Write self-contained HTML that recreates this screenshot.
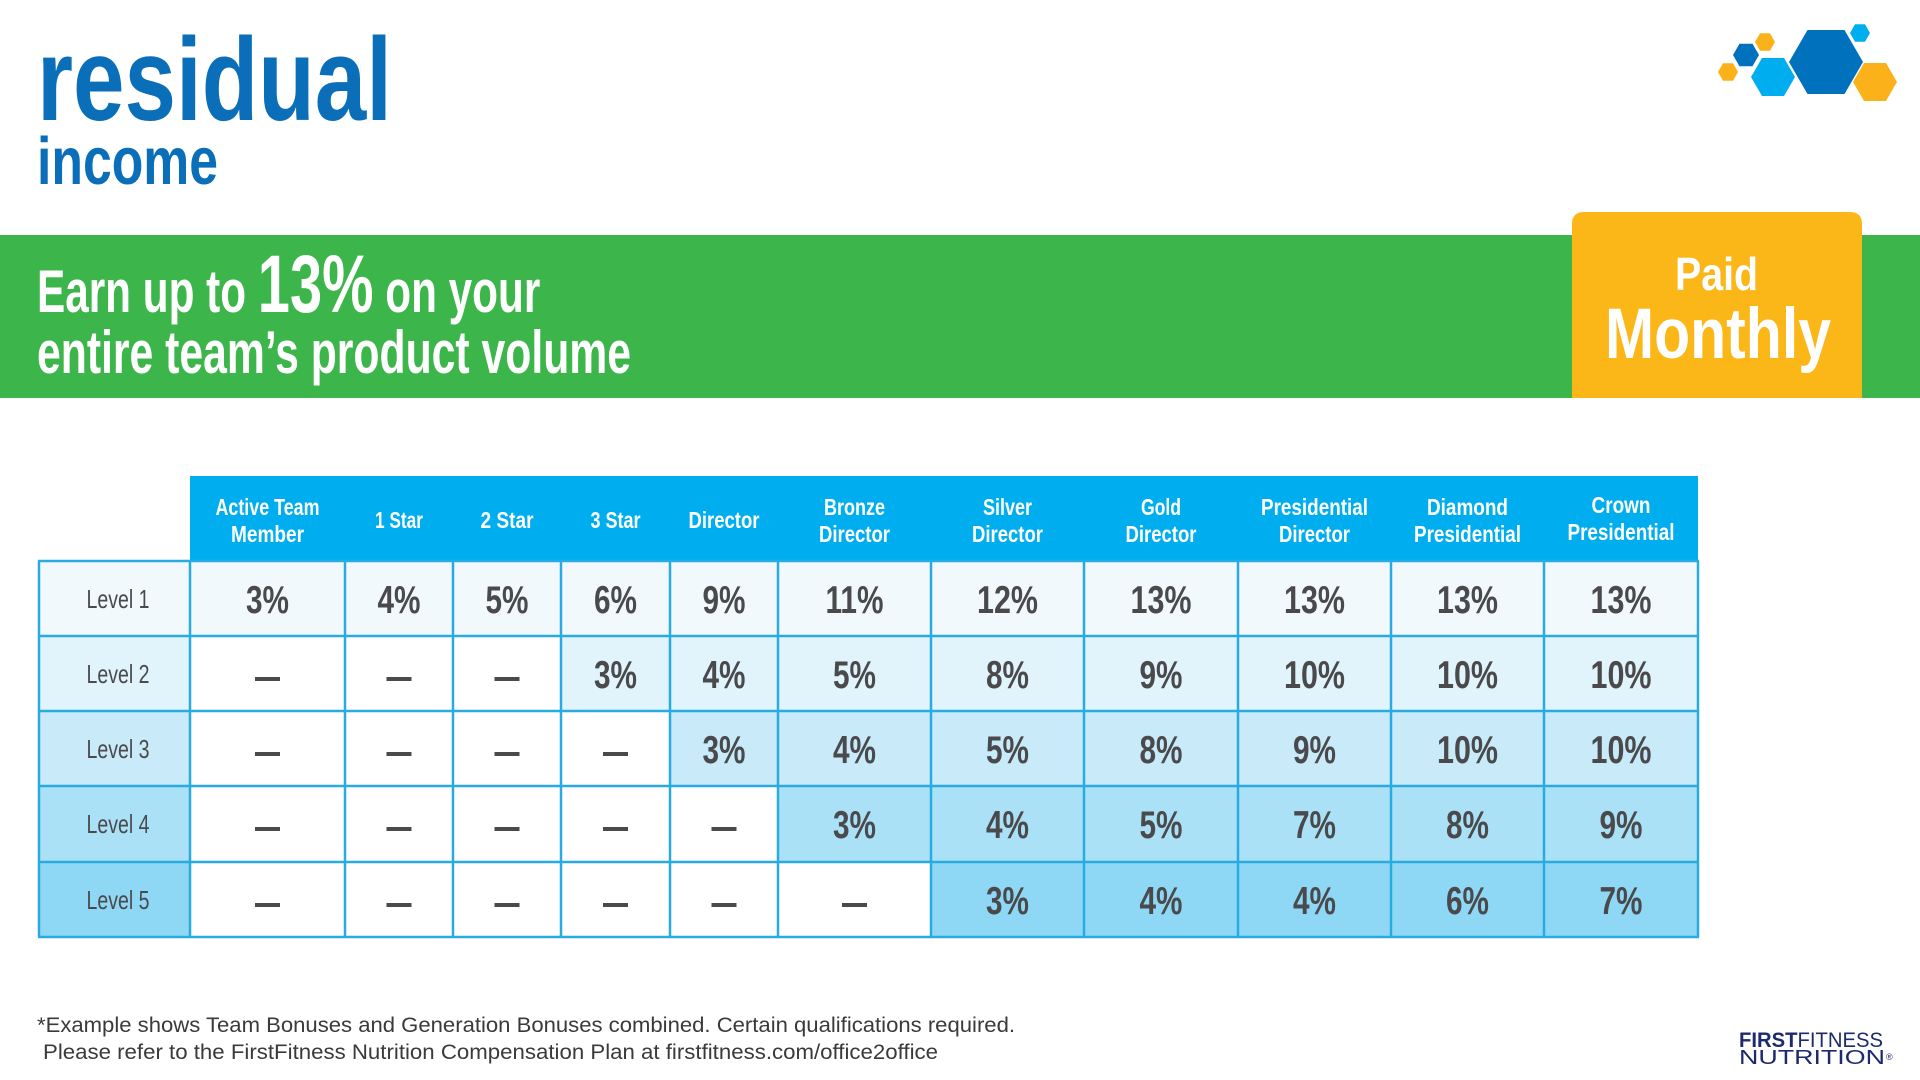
<!DOCTYPE html>
<html><head><meta charset="utf-8"><style>
html,body{margin:0;padding:0;background:#fff;}
svg{display:block;}
.v{font-family:"Liberation Sans",sans-serif;font-weight:bold;font-size:39px;fill:#4a4a4c;text-anchor:middle;}
.h{font-family:"Liberation Sans",sans-serif;font-weight:bold;font-size:23px;fill:#fff;text-anchor:middle;}
.l{font-family:"Liberation Sans",sans-serif;font-size:26px;fill:#4a4a4c;text-anchor:middle;}
.f{font-family:"Liberation Sans",sans-serif;font-size:21px;fill:#3a3a3a;}
</style></head><body>
<svg width="1920" height="1080" viewBox="0 0 1920 1080" xmlns="http://www.w3.org/2000/svg">
<rect width="1920" height="1080" fill="#fff"/>
<!-- title -->
<text x="37" y="120" font-family="Liberation Sans, sans-serif" font-weight="bold" font-size="118" fill="#0a6eb8" textLength="355" lengthAdjust="spacingAndGlyphs">residual</text>
<text x="37" y="184" font-family="Liberation Sans, sans-serif" font-weight="bold" font-size="67" fill="#0a6eb8" textLength="181" lengthAdjust="spacingAndGlyphs">income</text>
<!-- hexagons -->
<g>
<polygon points="1718,72 1723,63.3 1733,63.3 1738,72 1733,80.7 1723,80.7" fill="#fbb21a"/>
<polygon points="1733,55 1739.5,43.7 1752.5,43.7 1759,55 1752.5,66.3 1739.5,66.3" fill="#0071bc"/>
<polygon points="1755,42 1760,33.3 1770,33.3 1775,42 1770,50.7 1760,50.7" fill="#fbb21a"/>
<polygon points="1751,77 1762,58 1784,58 1795,77 1784,96 1762,96" fill="#00aeef"/>
<polygon points="1789,62 1807.5,30 1844.5,30 1863,62 1844.5,94 1807.5,94" fill="#0071bc"/>
<polygon points="1850,33 1855,24.3 1865,24.3 1870,33 1865,41.7 1855,41.7" fill="#00aeef"/>
<polygon points="1853,82 1864,63 1886,63 1897,82 1886,101 1864,101" fill="#fbb21a"/>
</g>
<!-- green band -->
<rect x="0" y="235" width="1920" height="163" fill="#3cb54a"/>
<text x="37" y="312" font-family="Liberation Sans, sans-serif" font-weight="bold" font-size="60" fill="#fff" transform="translate(37,0) scale(0.705,1) translate(-37,0)">Earn up to <tspan font-size="82">13%</tspan> on your</text>
<text x="37" y="373" font-family="Liberation Sans, sans-serif" font-weight="bold" font-size="60" fill="#fff" textLength="594" lengthAdjust="spacingAndGlyphs">entire team’s product volume</text>
<!-- yellow box -->
<path d="M1572,398 V224 Q1572,212 1584,212 H1850 Q1862,212 1862,224 V398 Z" fill="#fbb618"/>
<text x="1716.5" y="290" font-family="Liberation Sans, sans-serif" font-weight="bold" font-size="46" fill="#fff" text-anchor="middle" textLength="83" lengthAdjust="spacingAndGlyphs">Paid</text>
<text x="1718" y="358" font-family="Liberation Sans, sans-serif" font-weight="bold" font-size="71" fill="#fff" text-anchor="middle" textLength="226" lengthAdjust="spacingAndGlyphs">Monthly</text>

<!-- table header -->
<rect x="190" y="476" width="1508" height="85" fill="#00aeef"/>
<text class="h" x="267.5" y="515" textLength="104" lengthAdjust="spacingAndGlyphs">Active Team</text>
<text class="h" x="267.5" y="542" textLength="73" lengthAdjust="spacingAndGlyphs">Member</text>
<text class="h" x="399" y="528" textLength="48" lengthAdjust="spacingAndGlyphs">1 Star</text>
<text class="h" x="507" y="528" textLength="53" lengthAdjust="spacingAndGlyphs">2 Star</text>
<text class="h" x="615.5" y="528" textLength="50" lengthAdjust="spacingAndGlyphs">3 Star</text>
<text class="h" x="724" y="528" textLength="71" lengthAdjust="spacingAndGlyphs">Director</text>
<text class="h" x="854.5" y="515" textLength="61" lengthAdjust="spacingAndGlyphs">Bronze</text>
<text class="h" x="854.5" y="542" textLength="71" lengthAdjust="spacingAndGlyphs">Director</text>
<text class="h" x="1007.5" y="515" textLength="49" lengthAdjust="spacingAndGlyphs">Silver</text>
<text class="h" x="1007.5" y="542" textLength="71" lengthAdjust="spacingAndGlyphs">Director</text>
<text class="h" x="1161" y="515" textLength="40" lengthAdjust="spacingAndGlyphs">Gold</text>
<text class="h" x="1161" y="542" textLength="71" lengthAdjust="spacingAndGlyphs">Director</text>
<text class="h" x="1314.5" y="515" textLength="107" lengthAdjust="spacingAndGlyphs">Presidential</text>
<text class="h" x="1314.5" y="542" textLength="71" lengthAdjust="spacingAndGlyphs">Director</text>
<text class="h" x="1467.5" y="515" textLength="81" lengthAdjust="spacingAndGlyphs">Diamond</text>
<text class="h" x="1467.5" y="542" textLength="107" lengthAdjust="spacingAndGlyphs">Presidential</text>
<text class="h" x="1621" y="513" textLength="59" lengthAdjust="spacingAndGlyphs">Crown</text>
<text class="h" x="1621" y="540" textLength="107" lengthAdjust="spacingAndGlyphs">Presidential</text>

<!-- row fills -->
<rect x="39" y="561" width="151" height="75" fill="#f2f9fd"/><rect x="190" y="561" width="1508" height="75" fill="#f2f9fd"/>
<rect x="39" y="636" width="151" height="75" fill="#e1f4fc"/><rect x="561" y="636" width="1137" height="75" fill="#e1f4fc"/>
<rect x="39" y="711" width="151" height="75" fill="#c8eaf9"/><rect x="670" y="711" width="1028" height="75" fill="#c8eaf9"/>
<rect x="39" y="786" width="151" height="76" fill="#abe1f7"/><rect x="778" y="786" width="920" height="76" fill="#abe1f7"/>
<rect x="39" y="862" width="151" height="75" fill="#8fd8f5"/><rect x="931" y="862" width="767" height="75" fill="#8fd8f5"/>

<!-- grid -->
<g stroke="#29abe2" stroke-width="2.5" fill="none">
<line x1="38" y1="561" x2="1699" y2="561"/>
<line x1="38" y1="636" x2="1699" y2="636"/>
<line x1="38" y1="711" x2="1699" y2="711"/>
<line x1="38" y1="786" x2="1699" y2="786"/>
<line x1="38" y1="862" x2="1699" y2="862"/>
<line x1="38" y1="937" x2="1699" y2="937"/>
<line x1="39" y1="561" x2="39" y2="937"/>
<line x1="190" y1="561" x2="190" y2="937"/>
<line x1="345" y1="561" x2="345" y2="937"/>
<line x1="453" y1="561" x2="453" y2="937"/>
<line x1="561" y1="561" x2="561" y2="937"/>
<line x1="670" y1="561" x2="670" y2="937"/>
<line x1="778" y1="561" x2="778" y2="937"/>
<line x1="931" y1="561" x2="931" y2="937"/>
<line x1="1084" y1="561" x2="1084" y2="937"/>
<line x1="1238" y1="561" x2="1238" y2="937"/>
<line x1="1391" y1="561" x2="1391" y2="937"/>
<line x1="1544" y1="561" x2="1544" y2="937"/>
<line x1="1698" y1="561" x2="1698" y2="937"/>
</g>

<!-- level labels -->
<text class="l" x="118" y="608" textLength="63" lengthAdjust="spacingAndGlyphs">Level 1</text>
<text class="l" x="118" y="683" textLength="63" lengthAdjust="spacingAndGlyphs">Level 2</text>
<text class="l" x="118" y="758" textLength="63" lengthAdjust="spacingAndGlyphs">Level 3</text>
<text class="l" x="118" y="833" textLength="63" lengthAdjust="spacingAndGlyphs">Level 4</text>
<text class="l" x="118" y="909" textLength="63" lengthAdjust="spacingAndGlyphs">Level 5</text>

<!-- Row 1 -->
<g>
<text class="v" x="267.5" y="613" textLength="43" lengthAdjust="spacingAndGlyphs">3%</text>
<text class="v" x="399" y="613" textLength="43" lengthAdjust="spacingAndGlyphs">4%</text>
<text class="v" x="507" y="613" textLength="43" lengthAdjust="spacingAndGlyphs">5%</text>
<text class="v" x="615.5" y="613" textLength="43" lengthAdjust="spacingAndGlyphs">6%</text>
<text class="v" x="724" y="613" textLength="43" lengthAdjust="spacingAndGlyphs">9%</text>
<text class="v" x="854.5" y="613" textLength="58" lengthAdjust="spacingAndGlyphs">11%</text>
<text class="v" x="1007.5" y="613" textLength="61" lengthAdjust="spacingAndGlyphs">12%</text>
<text class="v" x="1161" y="613" textLength="61" lengthAdjust="spacingAndGlyphs">13%</text>
<text class="v" x="1314.5" y="613" textLength="61" lengthAdjust="spacingAndGlyphs">13%</text>
<text class="v" x="1467.5" y="613" textLength="61" lengthAdjust="spacingAndGlyphs">13%</text>
<text class="v" x="1621" y="613" textLength="61" lengthAdjust="spacingAndGlyphs">13%</text>
</g>
<!-- Row 2 -->
<g>
<text class="v" x="615.5" y="688" textLength="43" lengthAdjust="spacingAndGlyphs">3%</text>
<text class="v" x="724" y="688" textLength="43" lengthAdjust="spacingAndGlyphs">4%</text>
<text class="v" x="854.5" y="688" textLength="43" lengthAdjust="spacingAndGlyphs">5%</text>
<text class="v" x="1007.5" y="688" textLength="43" lengthAdjust="spacingAndGlyphs">8%</text>
<text class="v" x="1161" y="688" textLength="43" lengthAdjust="spacingAndGlyphs">9%</text>
<text class="v" x="1314.5" y="688" textLength="61" lengthAdjust="spacingAndGlyphs">10%</text>
<text class="v" x="1467.5" y="688" textLength="61" lengthAdjust="spacingAndGlyphs">10%</text>
<text class="v" x="1621" y="688" textLength="61" lengthAdjust="spacingAndGlyphs">10%</text>
</g>
<!-- Row 3 -->
<g>
<text class="v" x="724" y="763" textLength="43" lengthAdjust="spacingAndGlyphs">3%</text>
<text class="v" x="854.5" y="763" textLength="43" lengthAdjust="spacingAndGlyphs">4%</text>
<text class="v" x="1007.5" y="763" textLength="43" lengthAdjust="spacingAndGlyphs">5%</text>
<text class="v" x="1161" y="763" textLength="43" lengthAdjust="spacingAndGlyphs">8%</text>
<text class="v" x="1314.5" y="763" textLength="43" lengthAdjust="spacingAndGlyphs">9%</text>
<text class="v" x="1467.5" y="763" textLength="61" lengthAdjust="spacingAndGlyphs">10%</text>
<text class="v" x="1621" y="763" textLength="61" lengthAdjust="spacingAndGlyphs">10%</text>
</g>
<!-- Row 4 -->
<g>
<text class="v" x="854.5" y="838" textLength="43" lengthAdjust="spacingAndGlyphs">3%</text>
<text class="v" x="1007.5" y="838" textLength="43" lengthAdjust="spacingAndGlyphs">4%</text>
<text class="v" x="1161" y="838" textLength="43" lengthAdjust="spacingAndGlyphs">5%</text>
<text class="v" x="1314.5" y="838" textLength="43" lengthAdjust="spacingAndGlyphs">7%</text>
<text class="v" x="1467.5" y="838" textLength="43" lengthAdjust="spacingAndGlyphs">8%</text>
<text class="v" x="1621" y="838" textLength="43" lengthAdjust="spacingAndGlyphs">9%</text>
</g>
<!-- Row 5 -->
<g>
<text class="v" x="1007.5" y="914" textLength="43" lengthAdjust="spacingAndGlyphs">3%</text>
<text class="v" x="1161" y="914" textLength="43" lengthAdjust="spacingAndGlyphs">4%</text>
<text class="v" x="1314.5" y="914" textLength="43" lengthAdjust="spacingAndGlyphs">4%</text>
<text class="v" x="1467.5" y="914" textLength="43" lengthAdjust="spacingAndGlyphs">6%</text>
<text class="v" x="1621" y="914" textLength="43" lengthAdjust="spacingAndGlyphs">7%</text>
</g>
<!-- dashes -->
<g fill="#4a4a4c">
<rect x="255" y="677" width="25" height="4"/><rect x="386.5" y="677" width="25" height="4"/><rect x="494.5" y="677" width="25" height="4"/>
<rect x="255" y="752" width="25" height="4"/><rect x="386.5" y="752" width="25" height="4"/><rect x="494.5" y="752" width="25" height="4"/><rect x="603" y="752" width="25" height="4"/>
<rect x="255" y="827" width="25" height="4"/><rect x="386.5" y="827" width="25" height="4"/><rect x="494.5" y="827" width="25" height="4"/><rect x="603" y="827" width="25" height="4"/><rect x="711.5" y="827" width="25" height="4"/>
<rect x="255" y="903" width="25" height="4"/><rect x="386.5" y="903" width="25" height="4"/><rect x="494.5" y="903" width="25" height="4"/><rect x="603" y="903" width="25" height="4"/><rect x="711.5" y="903" width="25" height="4"/><rect x="842" y="903" width="25" height="4"/>
</g>

<!-- footnote -->
<text class="f" x="37" y="1032" textLength="978" lengthAdjust="spacingAndGlyphs">*Example shows Team Bonuses and Generation Bonuses combined. Certain qualifications required.</text>
<text class="f" x="43" y="1059" textLength="895" lengthAdjust="spacingAndGlyphs">Please refer to the FirstFitness Nutrition Compensation Plan at firstfitness.com/office2office</text>

<!-- logo -->
<text x="1739" y="1047" font-family="Liberation Sans, sans-serif" font-size="21" fill="#1d2a6b" textLength="144" lengthAdjust="spacingAndGlyphs"><tspan font-weight="bold">FIRST</tspan>FITNESS</text>
<text x="1739" y="1064" font-family="Liberation Sans, sans-serif" font-size="20" fill="#1d2a6b" textLength="146" lengthAdjust="spacingAndGlyphs">NUTRITION</text>
<text x="1886" y="1060" font-family="Liberation Sans, sans-serif" font-size="9" fill="#1d2a6b">®</text>
</svg>
</body></html>
